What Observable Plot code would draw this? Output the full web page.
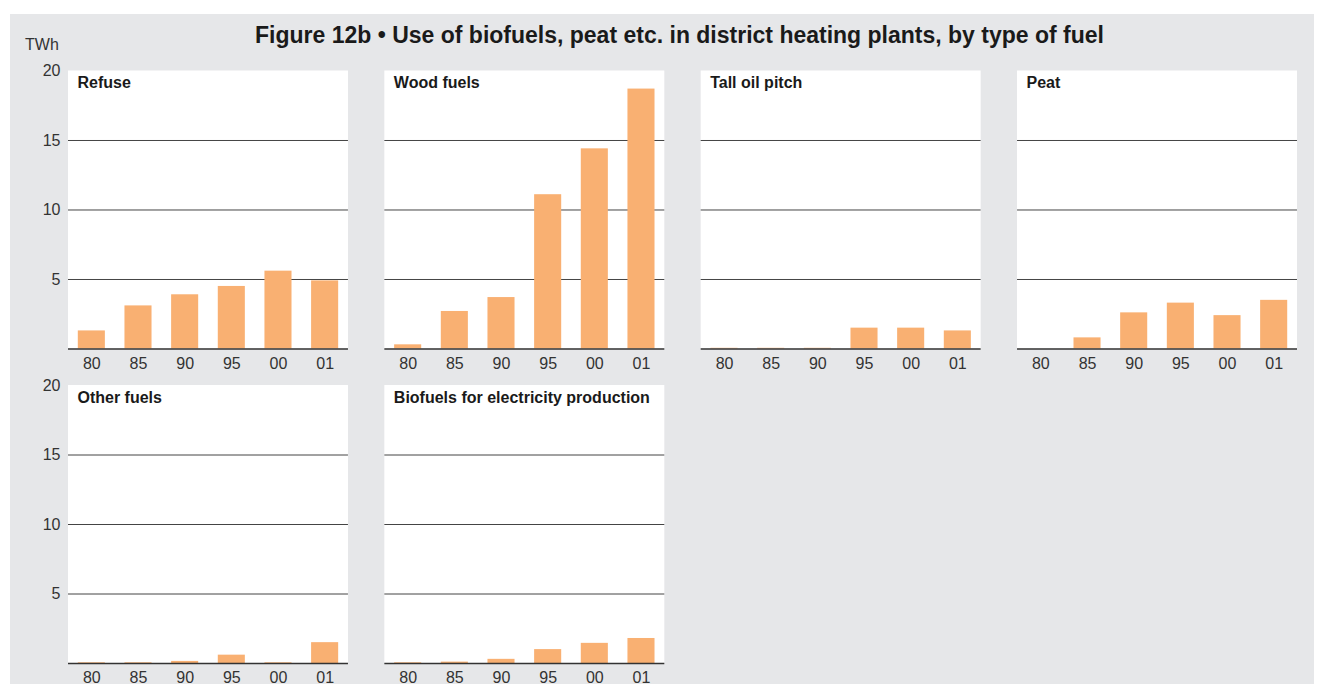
<!DOCTYPE html>
<html>
<head>
<meta charset="utf-8">
<script src="https://cdn.jsdelivr.net/npm/d3@7"></script>
<script src="https://cdn.jsdelivr.net/npm/@observablehq/plot@0.6"></script>
<style>
  html, body { margin: 0; padding: 0; background: #ffffff; }
  #wrap {
    position: absolute; left: 10px; top: 14px; width: 1304px; height: 670px;
    background: #e6e7e9; overflow: hidden;
    font-family: "Liberation Sans", Arial, Helvetica, sans-serif;
  }
  #title {
    position: absolute; left: 0; top: 8px; width: 1304px; box-sizing: border-box;
    padding-left: 35px; text-align: center; font-weight: bold; font-size: 23px;
    line-height: 26px; color: #1a1a1a;
  }
  #unit {
    position: absolute; left: 15px; top: 22px; font-size: 16px; line-height: 18px; color: #333;
  }
  #chart { position: absolute; left: 0; top: 42px; }
</style>
</head>
<body>
<div id="wrap">
  <div id="title">Figure 12b • Use of biofuels, peat etc. in district heating plants, by type of fuel</div>
  <div id="unit">TWh</div>
  <div id="chart"></div>
</div>
<script>
const years = ["80", "85", "90", "95", "00", "01"];
const fuels = ["Refuse", "Wood fuels", "Tall oil pitch", "Peat", "Other fuels", "Biofuels for electricity production"];
const refuse = [1.3, 3.1, 3.9, 4.5, 5.6, 4.9];
const woodFuels = [0.3, 2.7, 3.7, 11.1, 14.4, 18.7];
const tallOilPitch = [0.05, 0.05, 0.05, 1.5, 1.5, 1.3];
const peat = [0, 0.8, 2.6, 3.3, 2.4, 3.5];
const otherFuels = [0.05, 0.05, 0.15, 0.6, 0.05, 1.5];
const biofuelsElectricity = [0.05, 0.1, 0.3, 1.0, 1.45, 1.8];
const yTicks = [5, 10, 15, 20];
const gridValues = [5, 10, 15];

const series = [refuse, woodFuels, tallOilPitch, peat, otherFuels, biofuelsElectricity];
const panels = fuels.map((name, i) => ({name, col: i % 4, row: Math.floor(i / 4)}));
const data = [];
panels.forEach((p, i) => years.forEach((y, j) => data.push({...p, year: y, value: series[i][j]})));
const grid = [];
panels.forEach(p => gridValues.forEach(v => grid.push({...p, v})));

const font = '"Liberation Sans", Arial, Helvetica, sans-serif';

const chart = Plot.plot({
  width: 1304,
  height: 628,
  marginTop: 14.5,
  marginBottom: 21,
  marginLeft: 58,
  marginRight: 17,
  style: {fontFamily: font, fontSize: "16px", background: "transparent", color: "#333", overflow: "visible"},
  fx: {domain: [0, 1, 2, 3], paddingInner: 0.115, paddingOuter: 0, round: false, axis: null},
  fy: {domain: [0, 1], paddingInner: 0.1161, paddingOuter: 0, round: false, axis: null},
  x: {domain: years, paddingInner: 0.42, paddingOuter: 0.21, round: false, axis: null},
  y: {domain: [0, 20], axis: null},
  marks: [
    Plot.barY(panels, {fx: "col", fy: "row", y1: 0, y2: 20, fill: "white"}),
    Plot.ruleY(grid, {fx: "col", fy: "row", y: "v", stroke: "#444", strokeWidth: 1}),
    Plot.barY(data, {fx: "col", fy: "row", x: "year", y: "value", fill: "#f9b072"}),
    Plot.ruleY(panels, {fx: "col", fy: "row", y: () => 0, stroke: "#333", strokeWidth: 1.5}),
    Plot.text(data, {fx: "col", fy: "row", x: "year", text: "year", frameAnchor: "bottom", lineAnchor: "middle", dy: 14.5, fontSize: 16, fill: "#333"}),
    Plot.text(panels, {fx: "col", fy: "row", text: "name", frameAnchor: "top-left", dx: 9, dy: 6, fontSize: 16, fontWeight: "bold", fill: "#1a1a1a"}),
    Plot.axisY({ticks: yTicks, tickSize: 0, tickPadding: 8, fontSize: 16, label: null, facetAnchor: "left", color: "#333"})
  ]
});
document.getElementById("chart").appendChild(chart);
</script>
</body>
</html>
